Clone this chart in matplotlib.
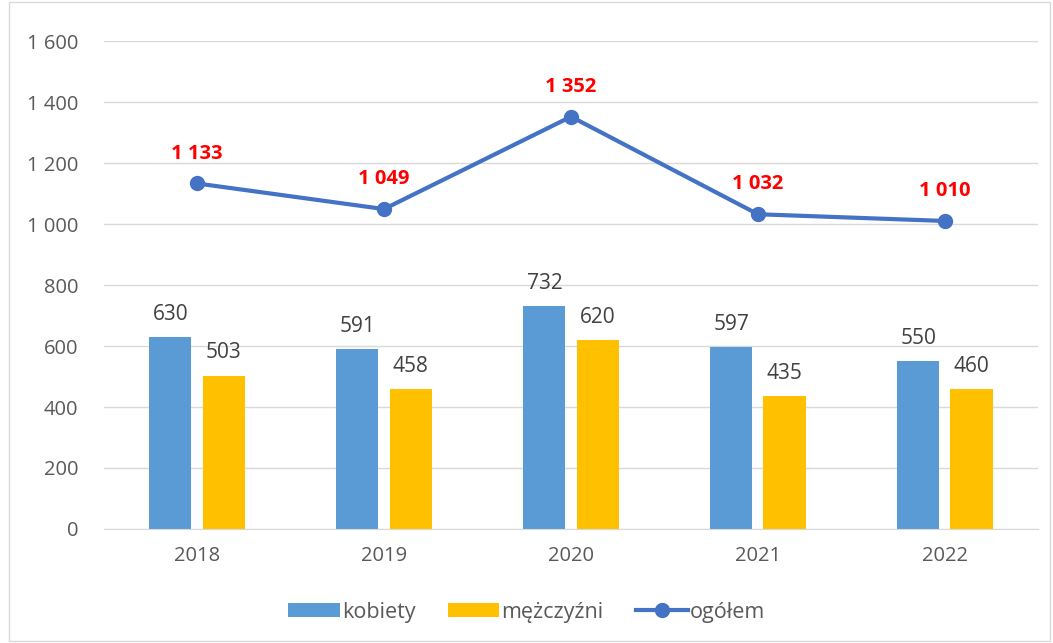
import matplotlib.pyplot as plt
import numpy as np
from matplotlib.patches import Rectangle

lata = ['2018', '2019', '2020', '2021', '2022']
kobiety = [630, 591, 732, 597, 550]
mezczyzni = [503, 458, 620, 435, 460]
ogolem = [1133, 1049, 1352, 1032, 1010]

plt.rcParams['font.family'] = ['Open Sans', 'DejaVu Sans']

fig = plt.figure(figsize=(10.53, 6.43), dpi=100)
ax = fig.add_axes([0.0983, 0.1773, 0.8879, 0.7589])

x = np.arange(len(lata))
w = 0.225
ax.bar(x - 0.142, kobiety, w, color='#5B9BD5', label='kobiety', zorder=2)
ax.bar(x + 0.142, mezczyzni, w, color='#FFC000', label='mężczyźni', zorder=2)
ax.plot(x, ogolem, color='#4472C4', lw=3, marker='o', ms=10, label='ogółem', zorder=3)

def fmt(v):
    return f'{v:,}'.replace(',', ' ')

for xi, v in zip(x - 0.142, kobiety):
    ax.text(xi, v + 40, fmt(v), ha='center', va='bottom', fontsize=15, color='#404040')
for xi, v in zip(x + 0.142, mezczyzni):
    ax.text(xi, v + 40, fmt(v), ha='center', va='bottom', fontsize=15, color='#404040')
for xi, v in zip(x, ogolem):
    ax.text(xi, v + 65, fmt(v), ha='center', va='bottom', fontsize=14.5, color='#FF0000', fontweight='bold')

ax.set_xlim(-0.5, len(lata) - 0.5)
ax.set_ylim(0, 1600)
ax.set_yticks(range(0, 1601, 200))
ax.set_yticklabels([fmt(v) for v in range(0, 1601, 200)])
ax.set_xticks(x)
ax.set_xticklabels(lata)
ax.tick_params(axis='both', length=0, labelsize=14.5, labelcolor='#595959')
ax.tick_params(axis='y', pad=18)
ax.tick_params(axis='x', pad=12)
ax.grid(axis='y', color='#D9D9D9', lw=1, zorder=0)
for s in ['top', 'right', 'left']:
    ax.spines[s].set_visible(False)
ax.spines['bottom'].set_color('#D9D9D9')

h, l = ax.get_legend_handles_labels()
order = [l.index('kobiety'), l.index('mężczyźni'), l.index('ogółem')]
leg = fig.legend([h[i] for i in order], [l[i] for i in order], loc='center',
                 bbox_to_anchor=(0.5, 0.048), ncol=3, frameon=False,
                 fontsize=15.5, handlelength=2.4, handleheight=0.6, columnspacing=1.5,
                 handletextpad=0.1)
for t in leg.get_texts():
    t.set_color('#595959')

fig.patches.append(Rectangle((0.009, 0.003), 0.988, 0.994, transform=fig.transFigure,
                             fill=False, edgecolor='#D9D9D9', lw=1))

fig.savefig('out.png', dpi=100)
